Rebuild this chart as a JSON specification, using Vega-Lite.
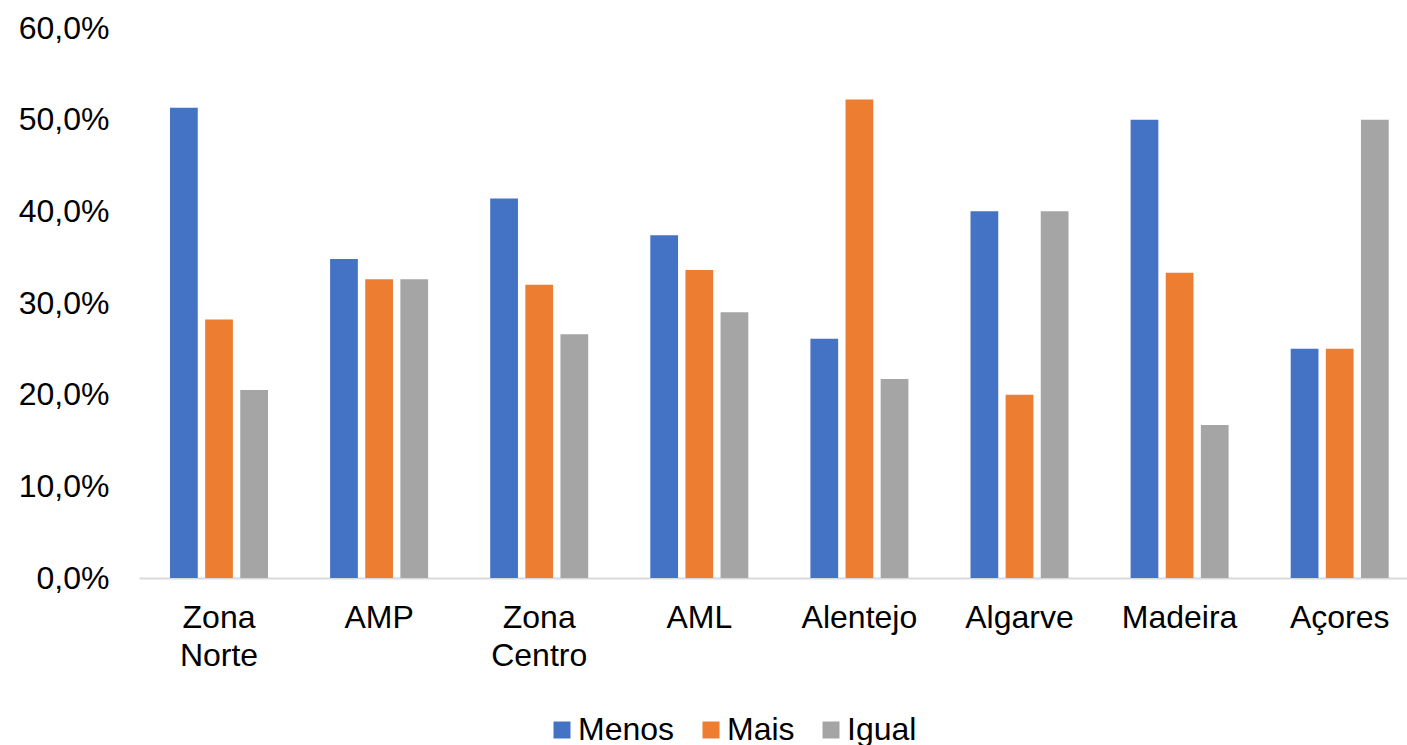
{
  "$schema": "https://vega.github.io/schema/vega-lite/v6.json",
  "width": 1268,
  "height": 550,
  "autosize": {"type": "none"},
  "padding": {"left": 139, "top": 28, "right": 0, "bottom": 167},
  "background": "white",
  "config": {
    "font": "Liberation Sans",
    "view": {"stroke": null},
    "axis": {"labelFont": "Liberation Sans", "labelColor": "#000000", "labelFontSize": 32, "title": null}
  },
  "data": {
    "values": [
      {"regiao": "Zona Norte", "tipo": "Menos", "valor": 0.513},
      {"regiao": "Zona Norte", "tipo": "Mais", "valor": 0.282},
      {"regiao": "Zona Norte", "tipo": "Igual", "valor": 0.205},
      {"regiao": "AMP", "tipo": "Menos", "valor": 0.348},
      {"regiao": "AMP", "tipo": "Mais", "valor": 0.326},
      {"regiao": "AMP", "tipo": "Igual", "valor": 0.326},
      {"regiao": "Zona Centro", "tipo": "Menos", "valor": 0.414},
      {"regiao": "Zona Centro", "tipo": "Mais", "valor": 0.320},
      {"regiao": "Zona Centro", "tipo": "Igual", "valor": 0.266},
      {"regiao": "AML", "tipo": "Menos", "valor": 0.374},
      {"regiao": "AML", "tipo": "Mais", "valor": 0.336},
      {"regiao": "AML", "tipo": "Igual", "valor": 0.290},
      {"regiao": "Alentejo", "tipo": "Menos", "valor": 0.261},
      {"regiao": "Alentejo", "tipo": "Mais", "valor": 0.522},
      {"regiao": "Alentejo", "tipo": "Igual", "valor": 0.217},
      {"regiao": "Algarve", "tipo": "Menos", "valor": 0.40},
      {"regiao": "Algarve", "tipo": "Mais", "valor": 0.20},
      {"regiao": "Algarve", "tipo": "Igual", "valor": 0.40},
      {"regiao": "Madeira", "tipo": "Menos", "valor": 0.50},
      {"regiao": "Madeira", "tipo": "Mais", "valor": 0.333},
      {"regiao": "Madeira", "tipo": "Igual", "valor": 0.167},
      {"regiao": "Açores", "tipo": "Menos", "valor": 0.25},
      {"regiao": "Açores", "tipo": "Mais", "valor": 0.25},
      {"regiao": "Açores", "tipo": "Igual", "valor": 0.50}
    ]
  },
  "mark": {"type": "bar"},
  "encoding": {
    "x": {
      "field": "regiao",
      "type": "nominal",
      "sort": ["Zona Norte", "AMP", "Zona Centro", "AML", "Alentejo", "Algarve", "Madeira", "Açores"],
      "scale": {"paddingInner": 0.3879, "paddingOuter": 0.154, "align": 0.629},
      "axis": {
        "labelAngle": 0,
        "ticks": false,
        "domainColor": "#d9d9d9",
        "domainWidth": 2,
        "labelPadding": 24,
        "labelLineHeight": 38,
        "labelExpr": "split(datum.label, ' ')"
      }
    },
    "xOffset": {
      "field": "tipo",
      "type": "nominal",
      "sort": ["Menos", "Mais", "Igual"],
      "scale": {"paddingInner": 0.21, "paddingOuter": 0}
    },
    "y": {
      "field": "valor",
      "type": "quantitative",
      "scale": {"domain": [0, 0.6], "nice": false},
      "axis": {
        "values": [0, 0.1, 0.2, 0.3, 0.4, 0.5, 0.6],
        "domain": false,
        "ticks": false,
        "grid": false,
        "labelPadding": 30,
        "labelExpr": "replace(format(datum.value, '.1%'), '.', ',')"
      }
    },
    "color": {
      "field": "tipo",
      "type": "nominal",
      "sort": ["Menos", "Mais", "Igual"],
      "scale": {"domain": ["Menos", "Mais", "Igual"], "range": ["#4472C4", "#ED7D31", "#A5A5A5"]},
      "legend": {
        "title": null,
        "orient": "none",
        "direction": "horizontal",
        "legendX": 407,
        "legendY": 686,
        "symbolType": "square",
        "symbolSize": 289,
        "symbolStrokeWidth": 0,
        "labelFontSize": 32,
        "labelFont": "Liberation Sans",
        "labelColor": "#000000",
        "labelOffset": 0,
        "columnPadding": 20,
        "padding": 0
      }
    }
  }
}
